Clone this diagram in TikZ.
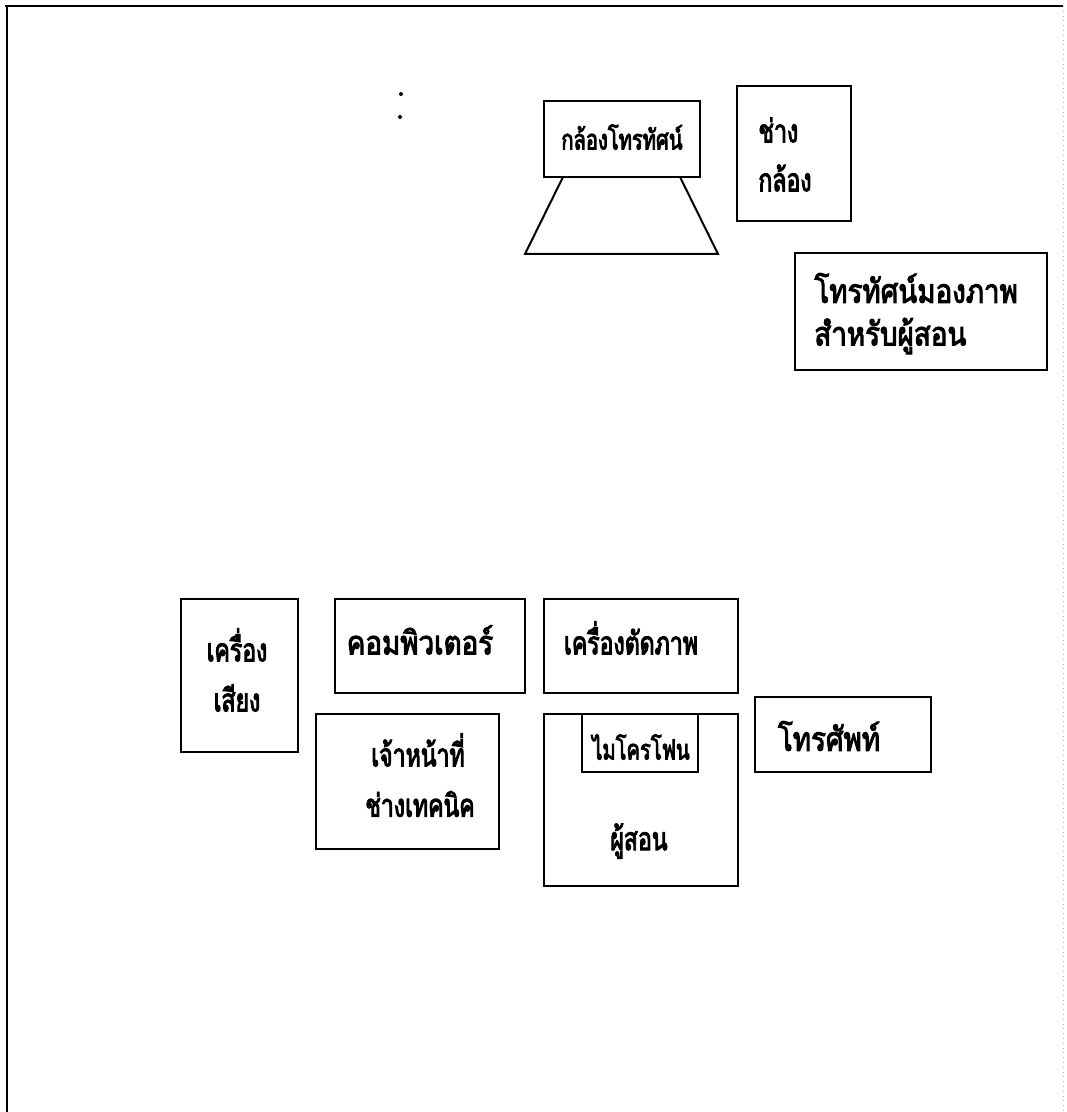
\documentclass[tikz,border=0pt]{standalone}
\usepackage{fontspec}
\newfontfamily\thaifont[Script=Thai,FakeStretch=0.72,FakeBold=3]{Loma}
\newfontfamily\thaiwide[Script=Thai,FakeStretch=0.84,FakeBold=3]{Loma}
\tikzset{
  box/.style={draw, line width=1pt, rectangle, inner sep=0pt},
  lbl/.style={font=\thaifont\fontsize{16}{18}\selectfont, inner sep=0pt},
  biglbl/.style={font=\thaiwide\fontsize{16.5}{18}\selectfont, inner sep=0pt},
  smalllbl/.style={font=\thaifont\fontsize{14}{16}\selectfont, inner sep=0pt}
}
\begin{document}
\begin{tikzpicture}[x=0.5pt,y=-0.5pt]
  \useasboundingbox (0,0) rectangle (1066,1112);
  \draw[line width=1.3pt] (5,6) -- (1063,6);
  \draw[line width=1.3pt] (7,6) -- (7,1112);
  \draw[gray!60, dotted] (1063,6) -- (1063,1112);
  \fill (401,94) circle (2);
  \fill (400,117) circle (2);
  % camera
  \node[box, minimum width=78pt, minimum height=38pt] (cam) at (622,139) {};
  \node[smalllbl] (camtxt) at (622,137) {กล้องโทรทัศน์};
  \draw[line width=1pt] (563,177) -- (525,254) -- (718,254) -- (680,177);
  \node[box, minimum width=57pt, minimum height=67.5pt] (op) at (794,153.5) {};
  \node[lbl, anchor=west] (op1) at (758,130) {ช่าง};
  \node[lbl, anchor=west] (op2) at (758,178) {กล้อง};
  \node[box, minimum width=126pt, minimum height=58.5pt] (mon) at (921,311.5) {};
  \node[biglbl, anchor=west] (mon1) at (814,288) {โทรทัศน์มองภาพ};
  \node[biglbl, anchor=west] (mon2) at (814,336) {สำหรับผู้สอน};
  % lower row
  \node[box, minimum width=58.5pt, minimum height=76.5pt] (snd) at (239.5,675.5) {};
  \node[lbl] (snd1) at (237,645) {เครื่อง};
  \node[lbl] (snd2) at (237,698) {เสียง};
  \node[box, minimum width=95pt, minimum height=47pt] (pc) at (430,646) {};
  \node[biglbl] (pctxt) at (420,640) {คอมพิวเตอร์};
  \node[box, minimum width=97pt, minimum height=47pt] (sw) at (641,646) {};
  \node[lbl] (swtxt) at (631,638) {เครื่องตัดภาพ};
  \node[box, minimum width=91.5pt, minimum height=67.5pt] (tech) at (407.5,781.5) {};
  \node[lbl] (tech1) at (418,750) {เจ้าหน้าที่};
  \node[lbl] (tech2) at (420,804) {ช่างเทคนิค};
  \node[box, minimum width=97pt, minimum height=86pt] (tch) at (641,800) {};
  \node[box, minimum width=58pt, minimum height=29pt] (mic) at (640,743) {};
  \node[smalllbl] (mictxt) at (641,747) {ไมโครโฟน};
  \node[lbl] (tchtxt) at (639,841) {ผู้สอน};
  \node[box, minimum width=88pt, minimum height=37.5pt] (tel) at (843,734.5) {};
  \node[biglbl] (teltxt) at (829,736) {โทรศัพท์};
\end{tikzpicture}
\end{document}
